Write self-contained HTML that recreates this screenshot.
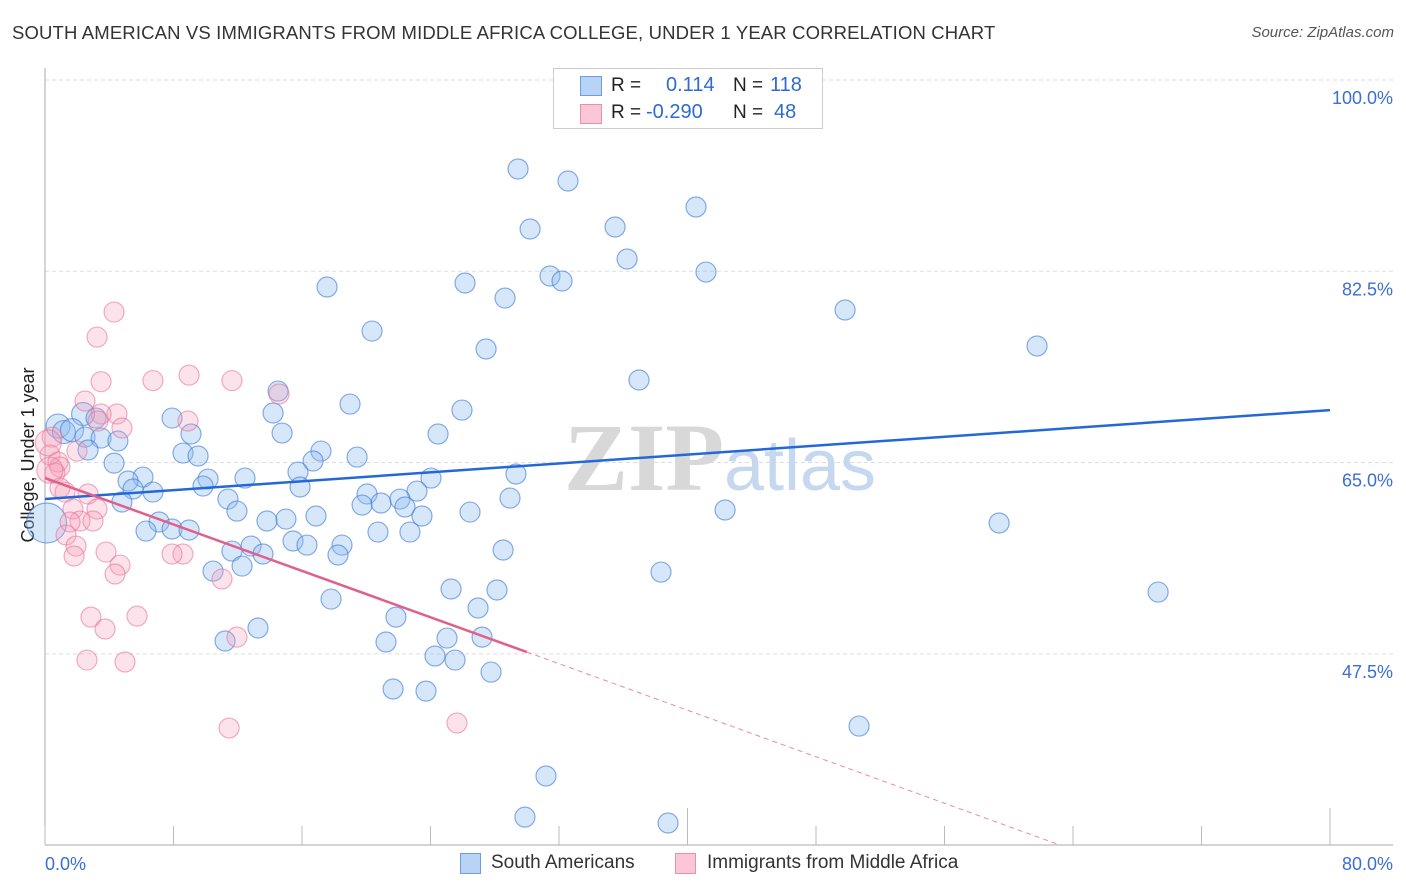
<!DOCTYPE html>
<html><head><meta charset="utf-8"><style>
body{margin:0;background:#fff;font-family:"Liberation Sans",sans-serif;}
#wrap{position:relative;width:1406px;height:892px;overflow:hidden;}
.t{position:absolute;white-space:nowrap;}
</style></head><body>
<div id="wrap">
<div class="t" style="left:12px;top:22px;font-size:18.5px;letter-spacing:0.15px;color:#333;">SOUTH AMERICAN VS IMMIGRANTS FROM MIDDLE AFRICA COLLEGE, UNDER 1 YEAR CORRELATION CHART</div>
<div class="t" style="right:12px;top:24px;font-size:15px;color:#555;font-style:italic;">Source: ZipAtlas.com</div>
<svg id="plot" width="1406" height="892" style="position:absolute;left:0;top:0"></svg>
</div>
<script>
const yTicks=[100,82.5,65,47.5];
const yTickLabels=["100.0%","82.5%","65.0%","47.5%"];
const xTickLabels=["0.0%","80.0%"];
const blueX=[29.45,32.56,30.2,35.49,40.53,36.24,41.15,31.44,32.19,26.15,17.56,28.64,49.81,20.36,27.46,61.76,36.98,14.51,18.99,25.96,14.2,7.91,2.37,3.18,9.09,14.76,24.47,0.81,1.18,1.68,2.49,3.49,4.54,2.68,17.18,16.69,19.43,8.59,9.53,4.3,15.75,6.1,5.17,10.15,12.45,24.03,29.32,9.84,15.88,5.48,6.72,23.16,20.05,19.74,20.92,22.1,22.41,28.95,11.39,4.79,11.95,23.47,26.46,16.87,15.0,13.82,42.34,59.4,7.1,7.91,6.29,8.97,20.73,22.72,15.44,16.31,18.49,12.83,11.64,13.57,18.24,28.52,10.46,12.27,38.35,25.28,28.14,69.3,17.81,26.96,21.85,13.26,11.21,21.23,25.03,27.21,24.28,25.53,27.77,21.67,23.72,50.68,31.19,29.88,38.79,39.29,0.1];
const blueY=[91.86,90.76,86.37,86.55,88.38,83.62,82.43,82.07,81.61,81.43,81.06,80.05,78.96,77.03,75.39,75.66,72.55,71.54,70.35,69.8,69.53,69.07,69.44,69.07,67.61,67.7,67.61,68.34,67.79,67.97,67.33,67.24,66.97,66.15,66.05,65.14,65.5,65.87,65.6,64.95,64.13,63.67,63.31,63.49,63.58,63.58,63.95,62.85,62.76,62.58,62.3,62.39,62.12,61.11,61.3,61.66,60.93,61.75,61.66,61.39,60.56,60.11,60.47,60.11,59.83,59.65,60.66,59.47,59.56,58.92,58.73,58.83,58.64,58.64,57.82,57.45,57.45,57.36,56.9,56.63,56.54,57.0,55.07,55.53,54.98,53.43,53.34,53.15,52.51,51.69,50.86,49.86,48.67,48.58,48.94,49.03,47.3,46.93,45.83,44.28,44.09,40.89,36.32,32.56,32.02,99.82,59.47];
const blueR=[1,1,1,1,1,1,1,1,1,1,1,1,1,1,1,1,1,1,1,1,1,1,1.15,1,1,1,1,1.2,1.15,1.15,1,1,1,1,1,1,1,1,1,1,1,1,1,1,1,1,1,1,1,1,1,1,1,1,1,1,1,1,1,1,1,1,1,1,1,1,1,1,1,1,1,1,1,1,1,1,1,1,1,1,1,1,1,1,1,1,1,1,1,1,1,1,1,1,1,1,1,1,1,1,1,1,1,1,1,1,2];
const pinkX=[4.3,3.24,3.49,6.72,8.97,11.64,2.49,14.57,4.48,3.49,8.9,4.79,3.3,0.44,1.99,0.31,0.81,0.93,0.62,0.93,1.25,2.68,1.74,3.24,2.18,2.99,1.56,1.31,1.93,3.8,1.81,8.59,7.91,4.67,4.36,11.02,2.86,5.73,3.74,11.95,2.61,4.98,11.46,25.65,0.2,0.3];
const pinkY=[78.77,76.48,72.4,72.5,73.0,72.5,70.63,71.27,69.44,69.44,68.8,68.16,68.8,67.33,66.05,65.69,65.05,64.59,64.04,62.67,62.3,62.12,60.75,60.75,59.65,59.65,59.56,58.37,57.36,56.81,56.45,56.63,56.63,55.62,54.8,54.35,50.86,50.95,49.77,49.03,46.93,46.75,40.71,41.17,66.8,64.3];
const blueTrend=[[0,61.66],[80,69.8]];
const pinkTrendSolid=[[0,63.58],[30,47.66]];
const pinkTrendDash=[[30,47.66],[63.2,30]];

const svg=document.getElementById('plot');
const NS='http://www.w3.org/2000/svg';
const X0=45,X1=1330,Y100=80,PX=10.93;
const sx=v=>X0+(X1-X0)*v/80;
const sy=v=>Y100+(100-v)*PX;
function mk(tag,attrs){const e=document.createElementNS(NS,tag);for(const k in attrs)e.setAttribute(k,attrs[k]);svg.appendChild(e);return e;}
yTicks.forEach((t,i)=>{
 const g=mk('line',{x1:X0,x2:1393,y1:sy(t),y2:sy(t),stroke:'#ddd','stroke-dasharray':'4,3'});
 
 
 const l=mk('text',{x:1393,y:sy(t)+24,'text-anchor':'end','font-size':18,fill:'#3b6fd0','font-family':'Liberation Sans, sans-serif'});
 l.textContent=yTickLabels[i];
 
 
});
let a=mk('line',{x1:X0,x2:X0,y1:68,y2:845,stroke:'#aaa'});


a=mk('line',{x1:X0,x2:1393,y1:845,y2:845,stroke:'#aaa'});


for(let i=0;i<=10;i++){
 const tk=mk('line',{x1:sx(i*8),x2:sx(i*8),y1:(i==5||i==10)?808:826,y2:845,stroke:'#bbb'});
 
 
}
[[0,'start'],[80,'end']].forEach((p,i)=>{
 const l=mk('text',{x:i?1393:45,y:870,'text-anchor':p[1],'font-size':18,fill:'#3b6fd0','font-family':'Liberation Sans, sans-serif'});
 l.textContent=xTickLabels[i];
 
 
});
const yt=mk('text',{x:0,y:0,transform:'translate(34,455) rotate(-90)','text-anchor':'middle','font-size':18,fill:'#222','font-family':'Liberation Sans, sans-serif'});
yt.textContent='College, Under 1 year';


const wm=mk('text',{x:720,y:490,'text-anchor':'middle','font-size':96,'font-family':'Liberation Serif, serif'});
wm.innerHTML='<tspan fill="#d8d8d8" font-weight="bold">ZIP</tspan><tspan fill="#c5d8f0" font-family="Liberation Sans, sans-serif" font-size="72">atlas</tspan>';


blueX.forEach((x,i)=>{
 const c=mk('circle',{cx:sx(x),cy:sy(blueY[i]),r:10*blueR[i],fill:'rgba(140,185,240,0.35)',stroke:'rgba(60,120,210,0.6)','stroke-width':1.2});
 
 
});
pinkX.forEach((x,i)=>{
 const c=mk('circle',{cx:sx(x),cy:sy(pinkY[i]),r:i>=44?13:10,fill:'rgba(245,160,185,0.3)',stroke:'rgba(230,110,150,0.55)','stroke-width':1.2});
 
 
});
let tl=mk('line',{x1:sx(blueTrend[0][0]),y1:sy(blueTrend[0][1]),x2:sx(blueTrend[1][0]),y2:sy(blueTrend[1][1]),stroke:'#2468d8','stroke-width':2.5});


tl=mk('line',{x1:sx(pinkTrendSolid[0][0]),y1:sy(pinkTrendSolid[0][1]),x2:sx(pinkTrendSolid[1][0]),y2:sy(pinkTrendSolid[1][1]),stroke:'#e0608a','stroke-width':2.5});


tl=mk('line',{x1:sx(pinkTrendDash[0][0]),y1:sy(pinkTrendDash[0][1]),x2:sx(pinkTrendDash[1][0]),y2:sy(pinkTrendDash[1][1]),stroke:'#e88aa8','stroke-width':1,'stroke-dasharray':'5,4'});


</script>
<div class="t" style="left:553px;top:68px;width:270px;height:61px;background:#fff;border:1px solid #ccc;box-sizing:border-box;font-size:19px;">
 <div style="position:absolute;left:26px;top:7px;width:20px;height:18px;background:#b8d3f5;border:1px solid #6a9ee0;"></div>
 <div style="position:absolute;left:26px;top:35px;width:20px;height:18px;background:#fbc6d5;border:1px solid #e890ac;"></div>
 <div class="t" style="left:57px;top:6px;color:#222;">R =</div>
 <div class="t" style="left:112px;top:5px;color:#2e6ad0;font-size:20px;">0.114</div>
 <div class="t" style="left:179px;top:6px;color:#222;">N =</div>
 <div class="t" style="left:216px;top:5px;color:#2e6ad0;font-size:20px;">118</div>
 <div class="t" style="left:57px;top:33px;color:#222;">R =</div>
 <div class="t" style="left:92px;top:32px;color:#2e6ad0;font-size:20px;">-0.290</div>
 <div class="t" style="left:179px;top:33px;color:#222;">N =</div>
 <div class="t" style="left:220px;top:32px;color:#2e6ad0;font-size:20px;">48</div>
</div>
<div>
 <div style="position:absolute;left:460px;top:853px;width:21px;height:21px;background:#b8d3f5;border:1px solid #6a9ee0;box-sizing:border-box;"></div>
 <div class="t" style="left:491px;top:852px;font-size:19px;color:#333;">South Americans</div>
 <div style="position:absolute;left:675px;top:853px;width:21px;height:21px;background:#fbc6d5;border:1px solid #e890ac;box-sizing:border-box;"></div>
 <div class="t" style="left:707px;top:852px;font-size:19px;color:#333;">Immigrants from Middle Africa</div>
</div>
</body></html>
